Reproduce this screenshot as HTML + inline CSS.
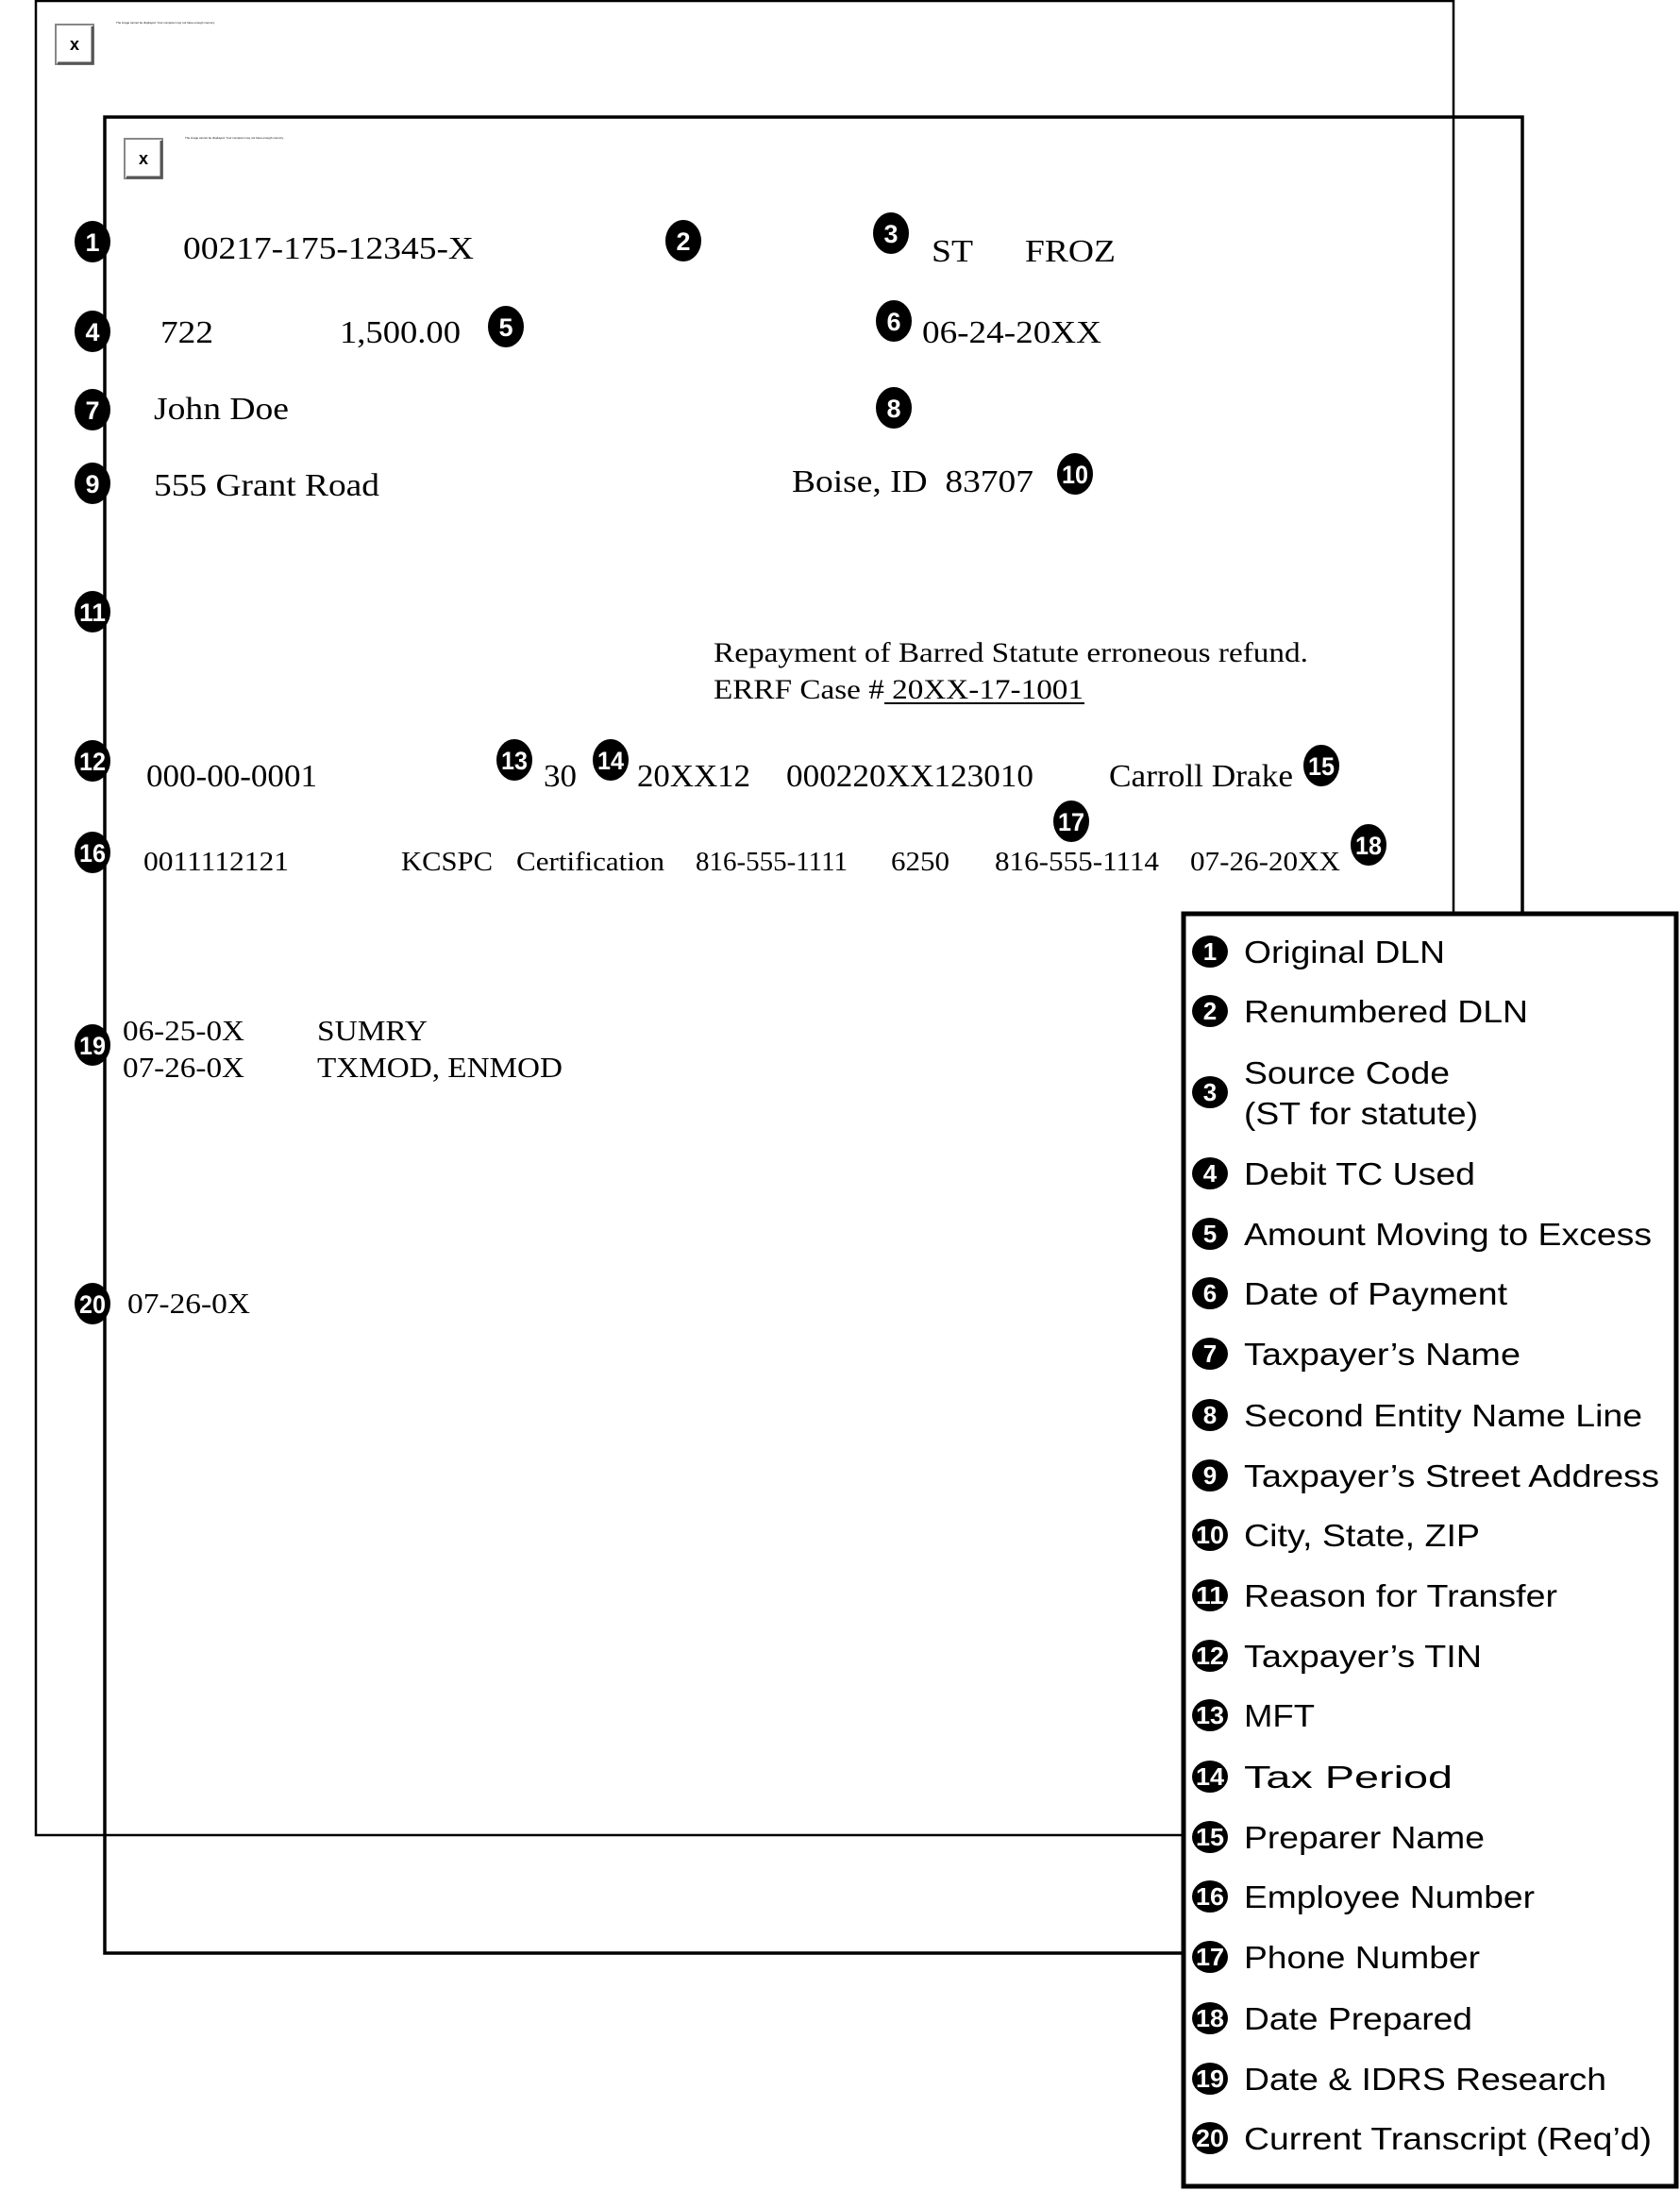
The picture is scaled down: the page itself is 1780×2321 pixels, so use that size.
<!DOCTYPE html>
<html><head><meta charset="utf-8"><style>html,body{margin:0;padding:0;background:#fff}svg{display:block}</style></head>
<body>
<svg width="1780" height="2321" viewBox="0 0 1780 2321" xmlns="http://www.w3.org/2000/svg">
<rect x="0" y="0" width="1780" height="2321" fill="#fff"/>
<rect x="38" y="1" width="1502" height="1943" fill="none" stroke="#000" stroke-width="2.5"/>
<rect x="111" y="124" width="1502" height="1945" fill="none" stroke="#000" stroke-width="3.5"/>
<g>
<rect x="59" y="26" width="40" height="42" fill="#fff" stroke="#888" stroke-width="2"/>
<line x1="61" y1="67" x2="99" y2="67" stroke="#555" stroke-width="3"/><line x1="98" y1="28" x2="98" y2="68" stroke="#555" stroke-width="3"/>
<text x="79" y="53" font-family="Liberation Sans, sans-serif" font-size="18" font-weight="bold" text-anchor="middle">x</text>
<text x="123" y="25" font-family="Liberation Sans, sans-serif" font-size="3">The image cannot be displayed. Your computer may not have enough memory.</text>
<rect x="132" y="147" width="40" height="42" fill="#fff" stroke="#888" stroke-width="2"/>
<line x1="134" y1="188" x2="172" y2="188" stroke="#555" stroke-width="3"/><line x1="171" y1="149" x2="171" y2="189" stroke="#555" stroke-width="3"/>
<text x="152" y="174" font-family="Liberation Sans, sans-serif" font-size="18" font-weight="bold" text-anchor="middle">x</text>
<text x="196" y="147" font-family="Liberation Sans, sans-serif" font-size="3">The image cannot be displayed. Your computer may not have enough memory.</text>
</g>
<g font-family="Liberation Sans, sans-serif" font-weight="bold" font-size="27" fill="#fff" text-anchor="middle">
<ellipse cx="98" cy="256" rx="19" ry="22" fill="#000"/><text x="98" y="266">1</text>
<ellipse cx="724" cy="255" rx="19" ry="22" fill="#000"/><text x="724" y="265">2</text>
<ellipse cx="944" cy="247" rx="19" ry="22" fill="#000"/><text x="944" y="257">3</text>
<ellipse cx="98" cy="351" rx="19" ry="22" fill="#000"/><text x="98" y="361">4</text>
<ellipse cx="536" cy="346" rx="19" ry="22" fill="#000"/><text x="536" y="356">5</text>
<ellipse cx="947" cy="340" rx="19" ry="22" fill="#000"/><text x="947" y="350">6</text>
<ellipse cx="98" cy="434" rx="19" ry="22" fill="#000"/><text x="98" y="444">7</text>
<ellipse cx="947" cy="432" rx="19" ry="22" fill="#000"/><text x="947" y="442">8</text>
<ellipse cx="98" cy="512" rx="19" ry="22" fill="#000"/><text x="98" y="522">9</text>
<ellipse cx="1139" cy="502" rx="19" ry="22" fill="#000"/><text x="1139" y="512" textLength="28" lengthAdjust="spacingAndGlyphs">10</text>
<ellipse cx="98" cy="648" rx="19" ry="22" fill="#000"/><text x="98" y="658" textLength="28" lengthAdjust="spacingAndGlyphs">11</text>
<ellipse cx="98" cy="806" rx="19" ry="22" fill="#000"/><text x="98" y="816" textLength="28" lengthAdjust="spacingAndGlyphs">12</text>
<ellipse cx="545" cy="805" rx="19" ry="22" fill="#000"/><text x="545" y="815" textLength="28" lengthAdjust="spacingAndGlyphs">13</text>
<ellipse cx="647" cy="805" rx="19" ry="22" fill="#000"/><text x="647" y="815" textLength="28" lengthAdjust="spacingAndGlyphs">14</text>
<ellipse cx="1400" cy="811" rx="19" ry="22" fill="#000"/><text x="1400" y="821" textLength="28" lengthAdjust="spacingAndGlyphs">15</text>
<ellipse cx="98" cy="903" rx="19" ry="22" fill="#000"/><text x="98" y="913" textLength="28" lengthAdjust="spacingAndGlyphs">16</text>
<ellipse cx="1135" cy="870" rx="19" ry="22" fill="#000"/><text x="1135" y="880" textLength="28" lengthAdjust="spacingAndGlyphs">17</text>
<ellipse cx="1450" cy="895" rx="19" ry="22" fill="#000"/><text x="1450" y="905" textLength="28" lengthAdjust="spacingAndGlyphs">18</text>
<ellipse cx="98" cy="1107" rx="19" ry="22" fill="#000"/><text x="98" y="1117" textLength="28" lengthAdjust="spacingAndGlyphs">19</text>
<ellipse cx="98" cy="1381" rx="19" ry="22" fill="#000"/><text x="98" y="1391" textLength="28" lengthAdjust="spacingAndGlyphs">20</text>
</g>
<g font-family="Liberation Serif, serif" font-size="34" fill="#000">
<text x="194" y="274" textLength="308" lengthAdjust="spacingAndGlyphs">00217-175-12345-X</text>
<text x="987" y="277" textLength="44" lengthAdjust="spacingAndGlyphs">ST</text>
<text x="1086" y="277" textLength="96" lengthAdjust="spacingAndGlyphs">FROZ</text>
<text x="170" y="363" textLength="56" lengthAdjust="spacingAndGlyphs">722</text>
<text x="360" y="363" textLength="128" lengthAdjust="spacingAndGlyphs">1,500.00</text>
<text x="977" y="363" textLength="190" lengthAdjust="spacingAndGlyphs">06-24-20XX</text>
<text x="163" y="444" textLength="143" lengthAdjust="spacingAndGlyphs">John Doe</text>
<text x="163" y="525" textLength="239" lengthAdjust="spacingAndGlyphs">555 Grant Road</text>
<text x="839" y="521" textLength="256" lengthAdjust="spacingAndGlyphs" xml:space="preserve">Boise, ID  83707</text>
<text x="756" y="701" font-size="30" textLength="630" lengthAdjust="spacingAndGlyphs">Repayment of Barred Statute erroneous refund.</text>
<text x="756" y="740" font-size="30" textLength="392" lengthAdjust="spacingAndGlyphs">ERRF Case # 20XX-17-1001</text>
<line x1="937" y1="745" x2="1149" y2="745" stroke="#000" stroke-width="2"/>
<text x="155" y="833" textLength="181" lengthAdjust="spacingAndGlyphs">000-00-0001</text>
<text x="576" y="833" textLength="35" lengthAdjust="spacingAndGlyphs">30</text>
<text x="675" y="833" textLength="120" lengthAdjust="spacingAndGlyphs">20XX12</text>
<text x="833" y="833" textLength="262" lengthAdjust="spacingAndGlyphs">000220XX123010</text>
<text x="1175" y="833" textLength="195" lengthAdjust="spacingAndGlyphs">Carroll Drake</text>
<g font-size="28">
<text x="152" y="922" textLength="154" lengthAdjust="spacingAndGlyphs">0011112121</text>
<text x="425" y="922" textLength="97" lengthAdjust="spacingAndGlyphs">KCSPC</text>
<text x="547" y="922" textLength="157" lengthAdjust="spacingAndGlyphs">Certification</text>
<text x="737" y="922" textLength="161" lengthAdjust="spacingAndGlyphs">816-555-1111</text>
<text x="944" y="922" textLength="62" lengthAdjust="spacingAndGlyphs">6250</text>
<text x="1054" y="922" textLength="174" lengthAdjust="spacingAndGlyphs">816-555-1114</text>
<text x="1261" y="922" textLength="159" lengthAdjust="spacingAndGlyphs">07-26-20XX</text>
</g>
<g font-size="31">
<text x="130" y="1102" textLength="129" lengthAdjust="spacingAndGlyphs">06-25-0X</text>
<text x="336" y="1102" textLength="117" lengthAdjust="spacingAndGlyphs">SUMRY</text>
<text x="130" y="1141" textLength="129" lengthAdjust="spacingAndGlyphs">07-26-0X</text>
<text x="336" y="1141" textLength="260" lengthAdjust="spacingAndGlyphs">TXMOD, ENMOD</text>
<text x="135" y="1391" textLength="130" lengthAdjust="spacingAndGlyphs">07-26-0X</text>
</g>
</g>
<rect x="1254" y="968" width="522" height="1348" fill="#fff" stroke="#000" stroke-width="5"/>
<g font-family="Liberation Sans, sans-serif" font-size="33" fill="#000">
<g font-weight="bold" font-size="26" text-anchor="middle" fill="#000">
<ellipse cx="1282" cy="1008" rx="19" ry="17"/><text x="1282" y="1017" fill="#fff">1</text>
<ellipse cx="1282" cy="1071" rx="19" ry="17"/><text x="1282" y="1080" fill="#fff">2</text>
<ellipse cx="1282" cy="1157" rx="19" ry="17"/><text x="1282" y="1166" fill="#fff">3</text>
<ellipse cx="1282" cy="1243" rx="19" ry="17"/><text x="1282" y="1252" fill="#fff">4</text>
<ellipse cx="1282" cy="1307" rx="19" ry="17"/><text x="1282" y="1316" fill="#fff">5</text>
<ellipse cx="1282" cy="1370" rx="19" ry="17"/><text x="1282" y="1379" fill="#fff">6</text>
<ellipse cx="1282" cy="1434" rx="19" ry="17"/><text x="1282" y="1443" fill="#fff">7</text>
<ellipse cx="1282" cy="1499" rx="19" ry="17"/><text x="1282" y="1508" fill="#fff">8</text>
<ellipse cx="1282" cy="1563" rx="19" ry="17"/><text x="1282" y="1572" fill="#fff">9</text>
<ellipse cx="1282" cy="1626" rx="19" ry="17"/><text x="1282" y="1635" fill="#fff" textLength="30" lengthAdjust="spacingAndGlyphs">10</text>
<ellipse cx="1282" cy="1690" rx="19" ry="17"/><text x="1282" y="1699" fill="#fff" textLength="30" lengthAdjust="spacingAndGlyphs">11</text>
<ellipse cx="1282" cy="1754" rx="19" ry="17"/><text x="1282" y="1763" fill="#fff" textLength="30" lengthAdjust="spacingAndGlyphs">12</text>
<ellipse cx="1282" cy="1817" rx="19" ry="17"/><text x="1282" y="1826" fill="#fff" textLength="30" lengthAdjust="spacingAndGlyphs">13</text>
<ellipse cx="1282" cy="1882" rx="19" ry="17"/><text x="1282" y="1891" fill="#fff" textLength="30" lengthAdjust="spacingAndGlyphs">14</text>
<ellipse cx="1282" cy="1946" rx="19" ry="17"/><text x="1282" y="1955" fill="#fff" textLength="30" lengthAdjust="spacingAndGlyphs">15</text>
<ellipse cx="1282" cy="2009" rx="19" ry="17"/><text x="1282" y="2018" fill="#fff" textLength="30" lengthAdjust="spacingAndGlyphs">16</text>
<ellipse cx="1282" cy="2073" rx="19" ry="17"/><text x="1282" y="2082" fill="#fff" textLength="30" lengthAdjust="spacingAndGlyphs">17</text>
<ellipse cx="1282" cy="2138" rx="19" ry="17"/><text x="1282" y="2147" fill="#fff" textLength="30" lengthAdjust="spacingAndGlyphs">18</text>
<ellipse cx="1282" cy="2202" rx="19" ry="17"/><text x="1282" y="2211" fill="#fff" textLength="30" lengthAdjust="spacingAndGlyphs">19</text>
<ellipse cx="1282" cy="2265" rx="19" ry="17"/><text x="1282" y="2274" fill="#fff" textLength="30" lengthAdjust="spacingAndGlyphs">20</text>
</g>
<text x="1318" y="1020" textLength="213" lengthAdjust="spacingAndGlyphs">Original DLN</text>
<text x="1318" y="1083" textLength="301" lengthAdjust="spacingAndGlyphs">Renumbered DLN</text>
<text x="1318" y="1148" textLength="218" lengthAdjust="spacingAndGlyphs">Source Code</text>
<text x="1318" y="1191" textLength="248" lengthAdjust="spacingAndGlyphs">(ST for statute)</text>
<text x="1318" y="1255" textLength="245" lengthAdjust="spacingAndGlyphs">Debit TC Used</text>
<text x="1318" y="1319" textLength="432" lengthAdjust="spacingAndGlyphs">Amount Moving to Excess</text>
<text x="1318" y="1382" textLength="279" lengthAdjust="spacingAndGlyphs">Date of Payment</text>
<text x="1318" y="1446" textLength="293" lengthAdjust="spacingAndGlyphs">Taxpayer’s Name</text>
<text x="1318" y="1511" textLength="422" lengthAdjust="spacingAndGlyphs">Second Entity Name Line</text>
<text x="1318" y="1575" textLength="440" lengthAdjust="spacingAndGlyphs">Taxpayer’s Street Address</text>
<text x="1318" y="1638" textLength="250" lengthAdjust="spacingAndGlyphs">City, State, ZIP</text>
<text x="1318" y="1702" textLength="332" lengthAdjust="spacingAndGlyphs">Reason for Transfer</text>
<text x="1318" y="1766" textLength="252" lengthAdjust="spacingAndGlyphs">Taxpayer’s TIN</text>
<text x="1318" y="1829" textLength="75" lengthAdjust="spacingAndGlyphs">MFT</text>
<text x="1318" y="1894" textLength="221" lengthAdjust="spacingAndGlyphs">Tax Period</text>
<text x="1318" y="1958" textLength="255" lengthAdjust="spacingAndGlyphs">Preparer Name</text>
<text x="1318" y="2021" textLength="308" lengthAdjust="spacingAndGlyphs">Employee Number</text>
<text x="1318" y="2085" textLength="250" lengthAdjust="spacingAndGlyphs">Phone Number</text>
<text x="1318" y="2150" textLength="242" lengthAdjust="spacingAndGlyphs">Date Prepared</text>
<text x="1318" y="2214" textLength="384" lengthAdjust="spacingAndGlyphs">Date &amp; IDRS Research</text>
<text x="1318" y="2277" textLength="432" lengthAdjust="spacingAndGlyphs">Current Transcript (Req’d)</text>
</g>
</svg>
</body></html>
